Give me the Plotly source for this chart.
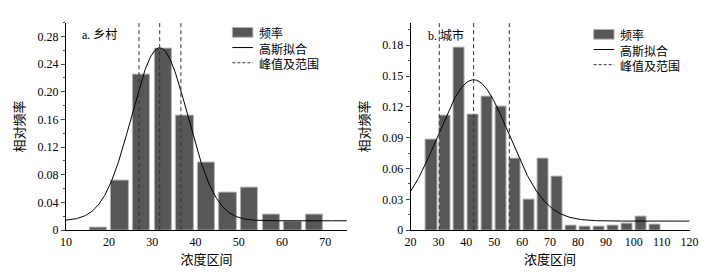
import numpy as np
import plotly.graph_objects as go

# ---------------- data ----------------
rural_bins = [17.5, 22.5, 27.5, 32.5, 37.5, 42.5, 47.5, 52.5, 57.5, 62.5, 67.5]
rural_freq = [0.003, 0.072, 0.225, 0.262, 0.166, 0.097, 0.054, 0.061, 0.023, 0.013, 0.023]
rural_fit = dict(y0=0.0135, xc=31.7, A=0.250, sigma=6.5)
rural_lines = [26.9, 31.7, 36.6]

urban_bins = [27.5, 32.5, 37.5, 42.5, 47.5, 52.5, 57.5, 62.5, 67.5, 72.5,
              77.5, 82.5, 87.5, 92.5, 97.5, 102.5, 107.5]
urban_freq = [0.088, 0.111, 0.178, 0.112, 0.130, 0.120, 0.070, 0.030, 0.070, 0.052,
              0.004, 0.0038, 0.0035, 0.0042, 0.006, 0.0127, 0.005]
urban_fit = dict(y0=0.0088, xc=42.6, A=0.1376, sigma=12.8)
urban_lines = [30.3, 42.6, 55.4]

rural_title = "a. 乡村"
urban_title = "b. 城市"
legend_labels = ["频率", "高斯拟合", "峰值及范围"]
x_title = "浓度区间"
y_title = "相对频率"

rural_xticks = [10, 20, 30, 40, 50, 60, 70]
rural_yticks = [0, 0.04, 0.08, 0.12, 0.16, 0.20, 0.24, 0.28]
rural_yticklabels = ["0", "0.04", "0.08", "0.12", "0.16", "0.20", "0.24", "0.28"]
urban_xticks = [20, 30, 40, 50, 60, 70, 80, 90, 100, 110, 120]
urban_yticks = [0, 0.03, 0.06, 0.09, 0.12, 0.15, 0.18]
urban_yticklabels = ["0", "0.03", "0.06", "0.09", "0.12", "0.15", "0.18"]

rural_xrange = [10, 75]
rural_yrange = [0, 0.30]
urban_xrange = [20, 120]
urban_yrange = [0, 0.202]

# ---------------- style ----------------
FONT = "Liberation Serif"
CJK = "Noto Sans CJK SC"
BAR_FILL = "#575757"
BAR_EDGE = "#b4b4b4"
W, H = 719, 272


def gauss(xs, p):
    xs = np.asarray(xs)
    return p["y0"] + p["A"] * np.exp(-(xs - p["xc"]) ** 2 / (2 * p["sigma"] ** 2))


fig = go.Figure()

panels = [
    dict(bins=rural_bins, freq=rural_freq, fit=rural_fit, lines=rural_lines,
         xr=rural_xrange, yr=rural_yrange, xa="x", ya="y"),
    dict(bins=urban_bins, freq=urban_freq, fit=urban_fit, lines=urban_lines,
         xr=urban_xrange, yr=urban_yrange, xa="x2", ya="y2"),
]

for p in panels:
    fig.add_trace(go.Bar(x=p["bins"], y=p["freq"], width=4,
                         marker=dict(color=BAR_FILL, line=dict(color=BAR_EDGE, width=1)),
                         xaxis=p["xa"], yaxis=p["ya"], showlegend=False))
    xs = np.linspace(p["xr"][0], p["xr"][1], 400)
    fig.add_trace(go.Scatter(x=xs, y=gauss(xs, p["fit"]), mode="lines",
                             line=dict(color="black", width=1),
                             xaxis=p["xa"], yaxis=p["ya"], showlegend=False))
    for lx in p["lines"]:
        fig.add_trace(go.Scatter(x=[lx, lx], y=p["yr"], mode="lines",
                                 line=dict(color="#333333", width=1, dash="4px,3px"),
                                 xaxis=p["xa"], yaxis=p["ya"], showlegend=False))

ydom = [1 - 228 / H, 1 - 15 / H]
ax_common = dict(showline=True, linecolor="black", linewidth=1, showgrid=False,
                 zeroline=False, tickfont=dict(family=FONT, size=12, color="black"),
                 mirror=False)

fig.update_layout(
    width=W, height=H,
    margin=dict(l=0, r=0, t=0, b=0),
    paper_bgcolor="white", plot_bgcolor="white",
    bargap=0,
    font=dict(family=FONT, color="black"),
    xaxis=dict(domain=[53 / W, 340 / W], range=rural_xrange, tickvals=rural_xticks,
               ticks="", anchor="y",
               title=dict(text=x_title, font=dict(family=CJK, size=13), standoff=4),
               **ax_common),
    yaxis=dict(domain=ydom, range=rural_yrange, tickvals=rural_yticks,
               ticktext=rural_yticklabels, ticks="outside", ticklen=4, anchor="x",
               minor=dict(ticks="outside", ticklen=2, dtick=0.02, tick0=0),
               title=dict(text=y_title, font=dict(family=CJK, size=13), standoff=9),
               **ax_common),
    xaxis2=dict(domain=[405 / W, 690 / W], range=urban_xrange, tickvals=urban_xticks,
                ticks="", anchor="y2",
                title=dict(text=x_title, font=dict(family=CJK, size=13), standoff=4),
                **ax_common),
    yaxis2=dict(domain=ydom, range=urban_yrange, tickvals=urban_yticks,
                ticktext=urban_yticklabels, ticks="outside", ticklen=4, anchor="x2",
                minor=dict(ticks="outside", ticklen=2, dtick=0.015, tick0=0),
                title=dict(text=y_title, font=dict(family=CJK, size=13), standoff=9),
                **ax_common),
)

# panel titles
fig.add_annotation(text=rural_title, xref="x domain", yref="y domain", x=0.05, y=0.985,
                   xanchor="left", yanchor="top", showarrow=False,
                   font=dict(family=FONT + ", " + CJK, size=12))
fig.add_annotation(text=urban_title, xref="x2 domain", yref="y2 domain", x=0.055, y=0.985,
                   xanchor="left", yanchor="top", showarrow=False,
                   font=dict(family=FONT + ", " + CJK, size=12))

# manual legends (one multi-line text per panel, swatches drawn beside each line)
LS = 15.6  # line spacing for 12px text (1.3 em)
legends = [
    dict(xref="x domain", yref="y domain", x0=(223 - 53) / 287, top=25),
    dict(xref="x2 domain", yref="y2 domain", x0=(592 - 405) / 285, top=27),
]
ph = 213
for lg in legends:
    dw = 21 / 287
    rows = [lg["top"], lg["top"] + LS, lg["top"] + 2 * LS]
    ys = [(228 - r) / ph for r in rows]
    fig.add_shape(type="rect", xref=lg["xref"], yref=lg["yref"],
                  x0=lg["x0"], x1=lg["x0"] + dw, y0=ys[0] - 5 / ph, y1=ys[0] + 5 / ph,
                  fillcolor=BAR_FILL, line=dict(color=BAR_EDGE, width=1))
    fig.add_shape(type="line", xref=lg["xref"], yref=lg["yref"],
                  x0=lg["x0"], x1=lg["x0"] + dw, y0=ys[1], y1=ys[1],
                  line=dict(color="black", width=1))
    fig.add_shape(type="line", xref=lg["xref"], yref=lg["yref"],
                  x0=lg["x0"], x1=lg["x0"] + dw, y0=ys[2], y1=ys[2],
                  line=dict(color="#333333", width=1, dash="3px,2px"))
    fig.add_annotation(text="<br>".join(legend_labels), xref=lg["xref"], yref=lg["yref"],
                       x=lg["x0"] + dw + 4 / 287, y=ys[1], xanchor="left", yanchor="middle",
                       align="left", showarrow=False, font=dict(family=CJK, size=12))

fig.write_html("out.html")
